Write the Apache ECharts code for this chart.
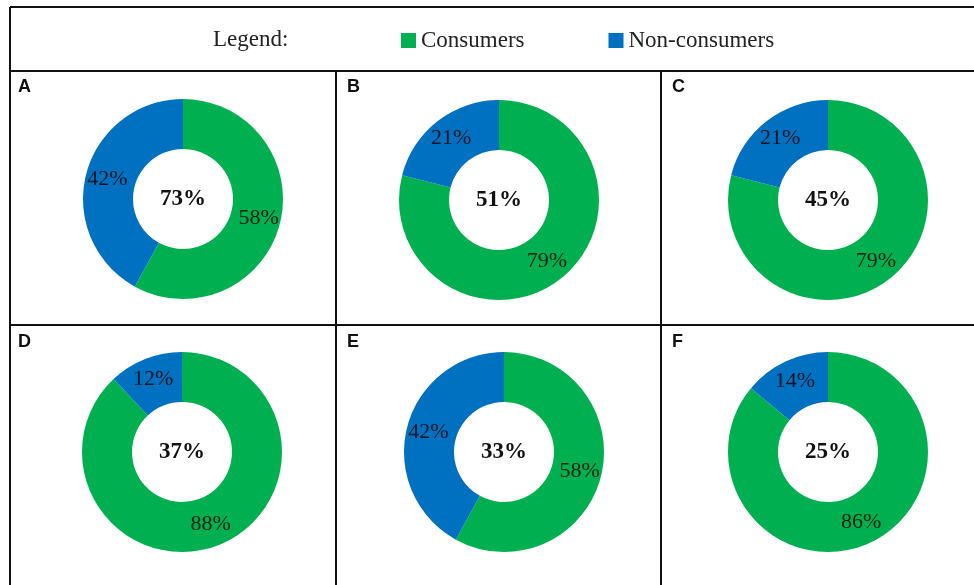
<!DOCTYPE html>
<html>
<head>
<meta charset="utf-8">
<script src="https://cdn.jsdelivr.net/npm/echarts@6/dist/echarts.min.js"></script>
<style>
html,body{margin:0;padding:0;background:#fff;}
#chart{width:974px;height:585px;}
</style>
</head>
<body>
<div id="chart"></div>
<script>
// ---- data ----
var panels = ['A', 'B', 'C', 'D', 'E', 'F'];
var seriesNames = ['Consumers', 'Non-consumers'];
var consumers = [58, 79, 79, 88, 58, 86];
var nonConsumers = [42, 21, 21, 12, 42, 14];
var centerValues = [73, 51, 45, 37, 33, 25];

// ---- layout ----
var centers = [[183, 199], [499, 200], [828, 200], [182, 452], [504, 452], [828, 452]];
var letterPos = [[18, 78], [347, 78], [672, 78], [18, 333], [347, 333], [672, 333]];
var colors = ['#00B050', '#0070C0'];
var serif = 'Liberation Serif';

var chart = echarts.init(document.getElementById('chart'), null, {renderer: 'canvas'});

var series = panels.map(function (p, i) {
  return {
    type: 'pie',
    name: p,
    center: centers[i],
    radius: [50, 100],
    startAngle: 90,
    clockwise: true,
    silent: true,
    animation: false,
    label: {
      show: true,
      position: 'inside',
      formatter: '{c}%',
      fontFamily: serif,
      fontSize: 22,
      color: 'rgba(0,0,0,0.82)'
    },
    labelLine: {show: false},
    itemStyle: {borderWidth: 0},
    emphasis: {disabled: true},
    data: [
      {name: seriesNames[0], value: consumers[i], itemStyle: {color: colors[0]}},
      {name: seriesNames[1], value: nonConsumers[i], itemStyle: {color: colors[1]}}
    ]
  };
});

var lineStyle = {stroke: '#111', lineWidth: 2};
var graphics = [
  {type: 'line', shape: {x1: 10, y1: 7, x2: 974, y2: 7}, style: lineStyle},
  {type: 'line', shape: {x1: 10, y1: 7, x2: 10, y2: 585}, style: lineStyle},
  {type: 'line', shape: {x1: 10, y1: 71, x2: 974, y2: 71}, style: lineStyle},
  {type: 'line', shape: {x1: 10, y1: 325, x2: 974, y2: 325}, style: lineStyle},
  {type: 'line', shape: {x1: 336, y1: 71, x2: 336, y2: 585}, style: lineStyle},
  {type: 'line', shape: {x1: 661, y1: 71, x2: 661, y2: 585}, style: lineStyle},
  {type: 'text', x: 213, y: 40, style: {text: 'Legend:', font: '23px "Liberation Serif"', fill: '#222', verticalAlign: 'middle'}}
];
panels.forEach(function (p, i) {
  graphics.push({type: 'text', x: letterPos[i][0], y: letterPos[i][1],
    style: {text: p, font: 'bold 18px "Liberation Sans"', fill: '#111', verticalAlign: 'top'}});
  graphics.push({type: 'text', x: centers[i][0], y: centers[i][1],
    style: {text: centerValues[i] + '%', font: 'bold 23px "Liberation Serif"', fill: '#111', align: 'center', verticalAlign: 'middle'}});
});

chart.setOption({
  animation: false,
  backgroundColor: '#fff',
  legend: {
    data: seriesNames,
    left: 401,
    top: 29,
    padding: 0,
    itemWidth: 15,
    itemHeight: 15,
    itemGap: 84,
    icon: 'rect',
    selectedMode: false,
    textStyle: {fontFamily: serif, fontSize: 23, color: '#222'}
  },
  series: series,
  graphic: graphics
});
</script>
</body>
</html>
